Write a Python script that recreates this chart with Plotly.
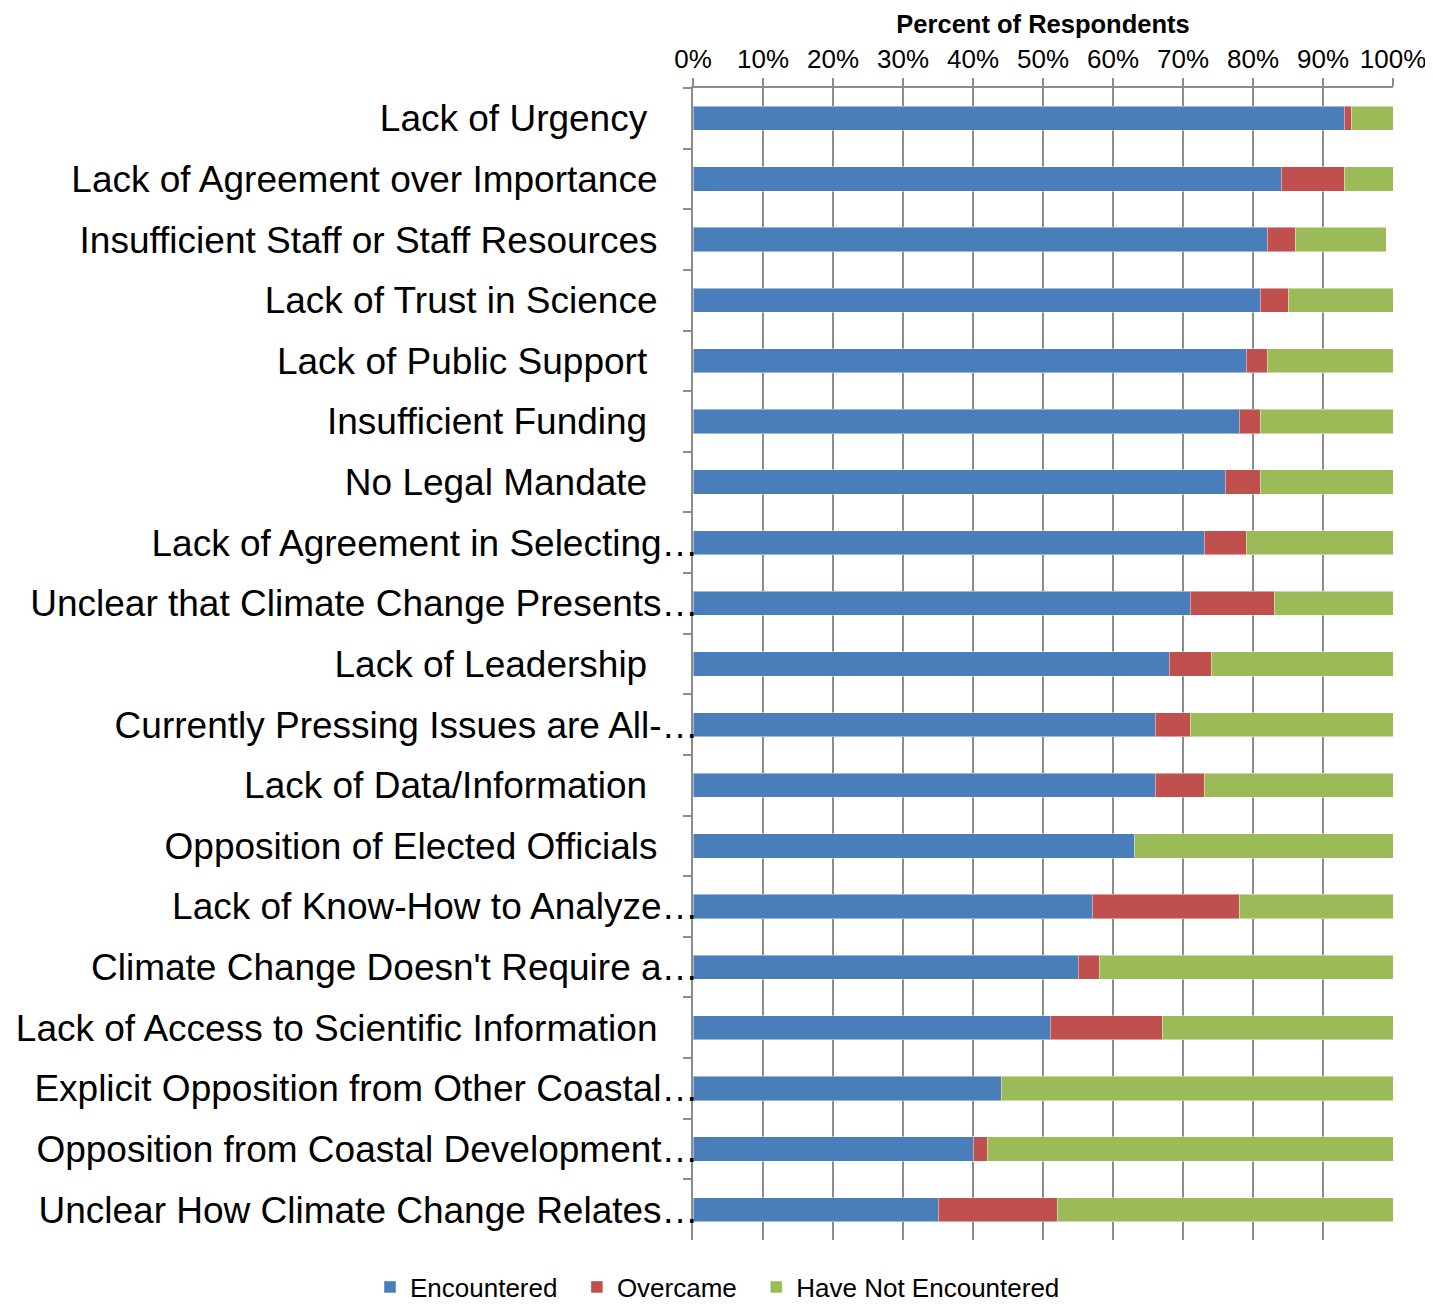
import plotly.graph_objects as go

categories = [
    "Lack of Urgency",
    "Lack of Agreement over Importance",
    "Insufficient Staff or Staff Resources",
    "Lack of Trust in Science",
    "Lack of Public Support",
    "Insufficient Funding",
    "No Legal Mandate",
    "Lack of Agreement in Selecting…",
    "Unclear that Climate Change Presents…",
    "Lack of Leadership",
    "Currently Pressing Issues are All-…",
    "Lack of Data/Information",
    "Opposition of Elected Officials",
    "Lack of Know-How to Analyze…",
    "Climate Change Doesn't Require a…",
    "Lack of Access to Scientific Information",
    "Explicit Opposition from Other Coastal…",
    "Opposition from Coastal Development…",
    "Unclear How Climate Change Relates…",
]
# trailing padding (number of no-break spaces) as in the original labels
label_pad = [5, 4, 4, 4, 5, 5, 5, 0, 0, 5, 0, 5, 4, 0, 0, 4, 0, 0, 0]

encountered = [93, 84, 82, 81, 79, 78, 76, 73, 71, 68, 66, 66, 63, 57, 55, 51, 44, 40, 35]
overcame = [1, 9, 4, 4, 3, 3, 5, 6, 12, 6, 5, 7, 0, 21, 3, 16, 0, 2, 17]
not_encountered = [6, 7, 13, 15, 18, 19, 19, 21, 17.2, 26.2, 29.2, 27, 37, 22, 42, 33, 56, 58.2, 48.2]

x_ticks = list(range(0, 101, 10))
x_tick_labels = [f"{v}%" for v in x_ticks]

labels = [c + "\u00a0" * p for c, p in zip(categories, label_pad)]

series = [
    ("Encountered", encountered, "#4A7EBB"),
    ("Overcame", overcame, "#C0504D"),
    ("Have Not Encountered", not_encountered, "#9BBB59"),
]

fig = go.Figure()
for name, vals, color in series:
    fig.add_trace(go.Bar(
        y=labels, x=vals, name=name + "\u00a0\u00a0", orientation="h",
        marker=dict(color=color, line=dict(color="rgba(255,255,255,0.45)", width=1)),
    ))

# page body has an 8px default margin; figure coordinates are offset accordingly
OFF = 8
W, H = 1433, 1304
L, R, T, B = 693 - OFF, W - (1393 - OFF), 88 - OFF, H - (1240 - OFF)
pw, ph = W - L - R, H - T - B

fig.update_layout(
    barmode="stack",
    bargap=0.6,
    width=W, height=H,
    margin=dict(l=L, r=R, t=T, b=B, autoexpand=False),
    plot_bgcolor="white", paper_bgcolor="white",
    font=dict(family="Liberation Sans, Arial, sans-serif", color="black"),
    showlegend=True,
    legend=dict(
        orientation="h", x=(370 - OFF - L) / pw, xanchor="left",
        y=-(1287 - 1240) / ph, yanchor="middle",
        font=dict(size=26), traceorder="normal", itemclick=False,
    ),
    title=dict(
        text="<b>Percent of Respondents</b>", font=dict(size=25.5),
        x=(1043 - OFF) / W, xanchor="center", y=1 - (24 - OFF) / H, yanchor="middle",
    ),
)

fig.update_xaxes(
    side="top", range=[0, 100], tickvals=x_ticks, ticktext=x_tick_labels,
    tickfont=dict(size=26), showgrid=True, gridcolor="#8C8C8C", gridwidth=2,
    showline=True, linecolor="#8C8C8C", linewidth=2,
    ticks="outside", ticklen=8, tickcolor="#8C8C8C", tickwidth=2,
    zeroline=False, fixedrange=True, automargin=False,
)
fig.update_yaxes(
    autorange="reversed", categoryorder="array", categoryarray=labels,
    tickfont=dict(size=37), showline=True, linecolor="#8C8C8C", linewidth=2,
    ticks="outside", ticklen=8, tickcolor="#8C8C8C", tickwidth=2,
    tickson="boundaries", showgrid=False, ticklabelstandoff=-15, fixedrange=True,
    automargin=False,
)

fig.write_html("out.html")
